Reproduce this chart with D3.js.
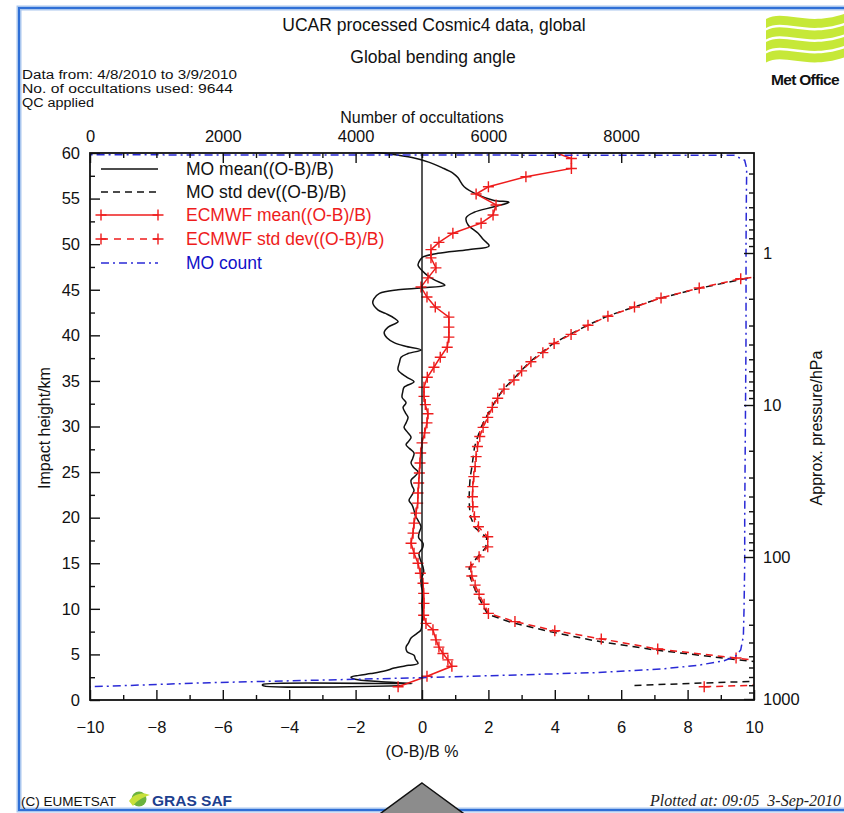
<!DOCTYPE html>
<html><head><meta charset="utf-8">
<script src="https://cdn.jsdelivr.net/npm/d3@7"></script>
<style>
body{margin:0;background:#fff;overflow:hidden;}
svg text{font-family:"Liberation Sans",Arial,Helvetica,sans-serif;}
</style></head><body>
<svg id="c" width="844" height="813"></svg>
<script>
// ---- data: impact height (km) and (O-B)/B (%) per series ----
const ecmwfMeanH = [1.45,2.6,3.7,4.4,5.1,5.8,6.6,7.7,8.4,9.3,10.6,11.7,12.8,13.9,15.0,16.1,17.2,18.3,19.4,20.5,21.6,22.7,23.8,24.9,26.0,27.1,28.2,29.3,30.4,31.4,32.4,33.3,34.3,35.4,36.5,37.6,38.7,39.8,40.9,42.0,43.1,44.2,45.3,46.3,47.4,48.5,49.4,50.2,51.2,52.3,53.2,54.3,55.5,56.3,57.4,58.3,59.4,60.6];
const ecmwfMean  = [-0.72,0.15,0.9,0.78,0.63,0.51,0.42,0.33,0.12,0.05,0.06,0.05,0.03,-0.05,-0.12,-0.24,-0.33,-0.27,-0.24,-0.18,-0.13,-0.12,-0.1,-0.08,-0.06,-0.04,0.0,0.08,0.15,0.18,0.1,0.06,0.06,0.16,0.36,0.55,0.76,0.81,0.81,0.81,0.4,0.15,-0.03,0.18,0.42,0.27,0.27,0.51,0.93,1.78,2.14,2.23,1.63,2.0,3.13,4.5,4.5,3.6];

const ecmwfStdH = [1.45,2.7,3.7,4.6,5.6,6.7,7.6,8.6,9.5,10.5,11.6,12.6,13.6,14.6,15.7,16.8,17.9,19.0,20.1,21.2,22.3,23.4,24.5,25.6,26.7,27.8,28.9,29.9,31.0,32.1,33.1,34.1,35.1,36.1,37.1,38.1,39.1,40.1,41.1,42.1,43.1,44.1,45.2,46.2,47.2];
const ecmwfStd  = [8.5,20,11.5,9.46,7.1,5.4,4.0,2.8,2.0,1.87,1.72,1.6,1.5,1.47,1.72,1.98,1.98,1.7,1.58,1.53,1.52,1.53,1.56,1.6,1.63,1.67,1.74,1.84,1.98,2.12,2.28,2.47,2.77,3.0,3.28,3.64,3.98,4.49,5.0,5.6,6.4,7.2,8.35,9.6,12];

const moStdH = [1.6,2.6,3.7,4.5,5.5,6.5,7.5,8.5,9.4,10.4,11.5,12.5,13.5,14.5,15.6,16.7,17.8,18.9,20.0,21.1,22.2,23.3,24.4,25.5,26.6,27.7,28.8,29.9,31.0,32.0,33.0,34.1,35.1,36.1,37.1,38.1,39.1,40.1,41.1,42.1,43.1,44.1,45.2,46.2,47.2];
const moStd  = [6.4,14.4,11.3,9.3,7.0,5.2,3.85,2.7,1.98,1.83,1.68,1.55,1.45,1.42,1.65,1.92,1.95,1.6,1.47,1.43,1.42,1.43,1.45,1.5,1.54,1.58,1.67,1.78,1.93,2.08,2.25,2.45,2.73,2.98,3.25,3.6,3.95,4.45,4.98,5.58,6.38,7.2,8.4,9.7,12.2];

const moMeanH = [1.55,1.6,1.7,1.8,1.9,2.0,2.3,2.5,2.7,2.9,3.2,3.5,3.8,4.0,4.5,4.9,5.3,5.8,6.3,6.8,7.3,7.7,8.5,9.5,10.5,11.7,12.5,13.2,14.0,14.6,15.4,16.1,16.7,17.2,17.8,18.3,19.0,19.7,20.2,20.8,21.4,21.9,22.5,23.0,23.5,24.1,24.6,25.0,25.5,26.0,26.5,27.1,27.6,28.0,28.4,28.8,29.3,29.9,30.4,31.0,31.5,32.1,32.6,33.2,33.8,34.3,34.9,35.4,36.2,37.0,37.6,38.0,38.4,38.8,39.2,39.7,40.3,40.9,41.5,41.9,42.4,42.8,43.5,44.0,44.6,45.0,45.2,45.5,46.1,46.6,47.0,47.7,48.3,48.6,49.0,49.4,49.8,50.5,51.2,52.1,52.9,53.5,54.1,54.6,54.8,55.4,56.3,57.3,57.8,58.4,59.0,59.5,59.9,60.3];
const moMean  = [-0.6,-4.8,-4.8,-0.3,-0.72,-1.23,-2.05,-2.14,-1.9,-1.54,-1.1,-0.84,-0.4,-0.12,-0.2,-0.24,-0.45,-0.48,-0.4,-0.33,-0.15,-0.03,0.0,0.03,0.0,0.03,-0.02,-0.03,0.05,0.03,-0.05,-0.09,0.02,0.03,-0.1,-0.09,-0.03,-0.12,-0.2,-0.24,-0.3,-0.39,-0.3,-0.24,-0.3,-0.33,-0.2,-0.12,-0.25,-0.33,-0.28,-0.24,-0.38,-0.48,-0.4,-0.33,-0.42,-0.54,-0.48,-0.42,-0.5,-0.57,-0.48,-0.6,-0.58,-0.54,-0.24,-0.45,-0.72,-0.68,-0.63,-0.42,-0.03,-0.5,-0.84,-1.05,-1.14,-1.02,-0.72,-0.84,-1.1,-1.33,-1.48,-1.45,-1.28,-0.72,-0.03,0.69,0.36,0.15,0.03,-0.12,-0.05,0.03,0.48,1.39,2.02,1.85,1.69,1.39,1.33,1.57,2.17,2.62,2.17,1.69,1.27,1.08,0.93,0.6,0.2,-0.3,-1.0,-2.0];

// number of occultations used at each impact height
const countH = [0,1.45,1.6,1.9,2.2,2.45,2.7,3.0,3.4,3.8,4.3,4.8,5.5,7,10,15,20,30,40,50,55,58.3,59.2,59.75,59.8];
const count  = [0,0,600,1800,3600,5000,6200,7600,8600,9150,9550,9720,9800,9840,9850,9860,9860,9870,9880,9880,9885,9890,9860,9700,0];

// ---- axis ticks ----
const xMajorTicks = [-10,-8,-6,-4,-2,0,2,4,6,8,10];
const xMinorTicks = [-9,-7,-5,-3,-1,1,3,5,7,9];
const hMajorTicks = [0,5,10,15,20,25,30,35,40,45,50,55,60];
const hMinorTicks = [2.5,7.5,12.5,17.5,22.5,27.5,32.5,37.5,42.5,47.5,52.5,57.5];
const countMajorTicks = [0,2000,4000,6000,8000];
const countMinorTicks = [500,1000,1500,2500,3000,3500,4500,5000,5500,6500,7000,7500,8500,9000,9500];
const pMajorTicks = [1,10,100,1000];
const pMinorTicks = [0.3,0.4,0.5,0.6,0.7,0.8,0.9,2,3,4,5,6,7,8,9,20,30,40,50,60,70,80,90,200,300,400,500,600,700,800,900];

const svg = d3.select("#c");
const L=90, R=754, T=153, B=700;
const x  = d3.scaleLinear().domain([-10,10]).range([L,R]);
const y  = d3.scaleLinear().domain([0,60]).range([B,T]);
const xc = d3.scaleLinear().domain([0,10000]).range([L,R]);
const yp = d3.scaleLog().domain([1000,100,10,1]).range([699,557,405,253]);

const RED="#ee1c1c", BLUE="#2a2ad6";

// page frame
svg.append("rect").attr("x",19).attr("y",8).attr("width",860).attr("height",802)
  .attr("fill","none").attr("stroke","#a9c6ee").attr("stroke-width",5);
svg.append("rect").attr("x",19).attr("y",8).attr("width",860).attr("height",802)
  .attr("fill","none").attr("stroke","#2f6fd6").attr("stroke-width",2);

function label(t,xp,yp2,size,anchor,opts={}){
  const e=svg.append("text").attr("x",xp).attr("y",yp2).attr("font-size",size)
    .attr("text-anchor",anchor||"start").attr("fill",opts.fill||"#111").text(t);
  if(opts.weight) e.attr("font-weight",opts.weight);
  if(opts.family) e.style("font-family",opts.family);
  if(opts.style) e.attr("font-style",opts.style);
  if(opts.len) e.attr("textLength",opts.len).attr("lengthAdjust","spacingAndGlyphs");
  if(opts.rot) e.attr("transform",`rotate(${opts.rot},${xp},${yp2})`);
  return e;
}
// header text
label("UCAR processed Cosmic4 data, global",434,31,17.5,"middle");
label("Global bending angle",433,63,17.5,"middle");
label("Data from: 4/8/2010 to 3/9/2010",22,78.5,12.5,"start",{len:215});
label("No. of occultations used: 9644",22,92.5,12.5,"start",{len:211});
label("QC applied",22,106.5,12.5,"start",{len:72});
label("Number of occultations",422,123,16,"middle");
label("(O-B)/B %",422,757,16,"middle");
label("Impact height/km",50,428,16,"middle",{rot:-90});
label("Approx. pressure/hPa",822,428,16,"middle",{rot:-90});

// plot clip
svg.append("clipPath").attr("id","pc").append("rect")
  .attr("x",L).attr("y",T-1).attr("width",R-L).attr("height",B-T+1);
const g = svg.append("g").attr("clip-path","url(#pc)");

const zip=(a,b)=>a.map((h,i)=>[h,b[i]]);
const line=d3.line().x(d=>x(d[1])).y(d=>y(d[0]));
const smooth=d3.line().x(d=>x(d[1])).y(d=>y(d[0])).curve(d3.curveCatmullRom.alpha(0.5));
const plus="M-5.5,0H5.5M0,-5.5V5.5";

// zero line
svg.append("line").attr("x1",x(0)).attr("x2",x(0)).attr("y1",T).attr("y2",B)
  .attr("stroke","#111").attr("stroke-width",1.4);

// MO mean
g.append("path").attr("d",smooth(zip(moMeanH,moMean))).attr("fill","none")
  .attr("stroke","#111").attr("stroke-width",1.5);
// MO std dev
g.append("path").attr("d",line(zip(moStdH,moStd))).attr("fill","none")
  .attr("stroke","#111").attr("stroke-width",1.5).attr("stroke-dasharray","7,5");
// ECMWF mean
g.append("path").attr("d",line(zip(ecmwfMeanH,ecmwfMean))).attr("fill","none")
  .attr("stroke",RED).attr("stroke-width",1.5);
g.selectAll(".pm").data(zip(ecmwfMeanH,ecmwfMean)).join("path")
  .attr("d",plus).attr("transform",d=>`translate(${x(d[1])},${y(d[0])})`)
  .attr("stroke",RED).attr("stroke-width",1.4);
// ECMWF std dev
g.append("path").attr("d",line(zip(ecmwfStdH,ecmwfStd))).attr("fill","none")
  .attr("stroke",RED).attr("stroke-width",1.5).attr("stroke-dasharray","7,5");
g.selectAll(".ps").data(zip(ecmwfStdH,ecmwfStd)).join("path")
  .attr("d",plus).attr("transform",d=>`translate(${x(d[1])},${y(d[0])})`)
  .attr("stroke",RED).attr("stroke-width",1.4);
// MO count
g.append("path").attr("d",d3.line().x(d=>xc(d[1])).y(d=>y(d[0]))(zip(countH,count)))
  .attr("fill","none").attr("stroke",BLUE).attr("stroke-width",1.5)
  .attr("stroke-dasharray","8,4,2,4");

// axes
function styleAxis(sel,size){
  sel.select(".domain").remove();
  sel.selectAll("line").attr("stroke","#111").attr("stroke-width",1.4);
  sel.selectAll("text").attr("font-size",size).attr("fill","#111")
     .style("font-family",'"Liberation Sans",Arial,sans-serif');
}
svg.append("g").attr("transform",`translate(0,${B})`)
  .call(d3.axisBottom(x).tickValues(xMajorTicks).tickSize(-10).tickPadding(21).tickFormat(d3.format("d"))).call(styleAxis,16.5);
svg.append("g").attr("transform",`translate(0,${B})`)
  .call(d3.axisBottom(x).tickValues(xMinorTicks).tickSize(-5).tickFormat("")).call(styleAxis,16.5);
svg.append("g").attr("transform",`translate(${L},0)`)
  .call(d3.axisLeft(y).tickValues(hMajorTicks).tickSize(-10).tickPadding(10)).call(styleAxis,16.5);
svg.append("g").attr("transform",`translate(${L},0)`)
  .call(d3.axisLeft(y).tickValues(hMinorTicks).tickSize(-5).tickFormat("")).call(styleAxis,16.5);
svg.append("g").attr("transform",`translate(0,${T})`)
  .call(d3.axisTop(xc).tickValues(countMajorTicks).tickSize(-10).tickPadding(11).tickFormat(d3.format("d"))).call(styleAxis,16.5);
svg.append("g").attr("transform",`translate(0,${T})`)
  .call(d3.axisTop(xc).tickValues(countMinorTicks).tickSize(-5).tickFormat("")).call(styleAxis,16.5);
svg.append("g").attr("transform",`translate(${R},0)`)
  .call(d3.axisRight(yp).tickValues(pMajorTicks).tickSize(-10).tickPadding(9).tickFormat(d3.format("d"))).call(styleAxis,16.5);
svg.append("g").attr("transform",`translate(${R},0)`)
  .call(d3.axisRight(yp).tickValues(pMinorTicks).tickSize(-5).tickFormat("")).call(styleAxis,16.5);

// plot frame
svg.append("rect").attr("x",L).attr("y",T).attr("width",R-L).attr("height",B-T)
  .attr("fill","none").attr("stroke","#111").attr("stroke-width",1.8);

// legend
const legend=[
  {t:"MO mean((O-B)/B)",c:"#111",dash:null,mk:false},
  {t:"MO std dev((O-B)/B)",c:"#111",dash:"7,5",mk:false},
  {t:"ECMWF mean((O-B)/B)",c:RED,dash:null,mk:true},
  {t:"ECMWF std dev((O-B)/B)",c:RED,dash:"7,6",mk:true},
  {t:"MO count",c:BLUE,dash:"8,4,2,4",mk:false,tc:"#1010c8"}
];
const legY=[169,192,215,239,263];
legend.forEach((d,i)=>{
  const yy=legY[i];
  svg.append("line").attr("x1",101).attr("x2",158).attr("y1",yy).attr("y2",yy)
    .attr("stroke",d.c).attr("stroke-width",1.6).attr("stroke-dasharray",d.dash);
  if(d.mk){[101,158].forEach(xx=>svg.append("path").attr("d",plus)
    .attr("transform",`translate(${xx},${yy})`).attr("stroke",d.c).attr("stroke-width",1.4));}
  label(d.t,186,yy+6,17.5,"start",{fill:d.tc||d.c});
});

// Met Office logo
const band=y0=>`M766,${y0+2} C784,${y0-8} 806,${y0+10} 844,${y0-3} L844,${y0+6} C806,${y0+19} 784,${y0+1} 766,${y0+11} Z`;
[17,28.5,40,51.5].forEach(y0=>svg.append("path").attr("d",band(y0)).attr("fill","#c6e838"));
label("Met Office",805,85,15.5,"middle",{weight:"bold",fill:"#111"}).attr("letter-spacing",-0.7);

// footer
label("(C) EUMETSAT",21,806,13.5,"start",{fill:"#111"});
svg.append("circle").attr("cx",139).attr("cy",799).attr("r",7.5).attr("fill","#6cb33e");
svg.append("path").attr("d","M129,801 C134,793 144,792 150,795 C144,797 137,800 133,806 Z").attr("fill","#c8e03a");
label("GRAS SAF",152,806,15.5,"start",{weight:"bold",fill:"#1d3f8e"});
label("Plotted at: 09:05  3-Sep-2010",650,806,16,"start",{family:'"Liberation Serif","Times New Roman",serif',style:"italic",fill:"#222"}).attr("xml:space","preserve");

// pointer triangle
svg.append("path").attr("d","M422,783 L467,816 L377,816 Z").attr("fill","#8c8c8c").attr("stroke","#111").attr("stroke-width",1.5);
</script>
</body></html>
